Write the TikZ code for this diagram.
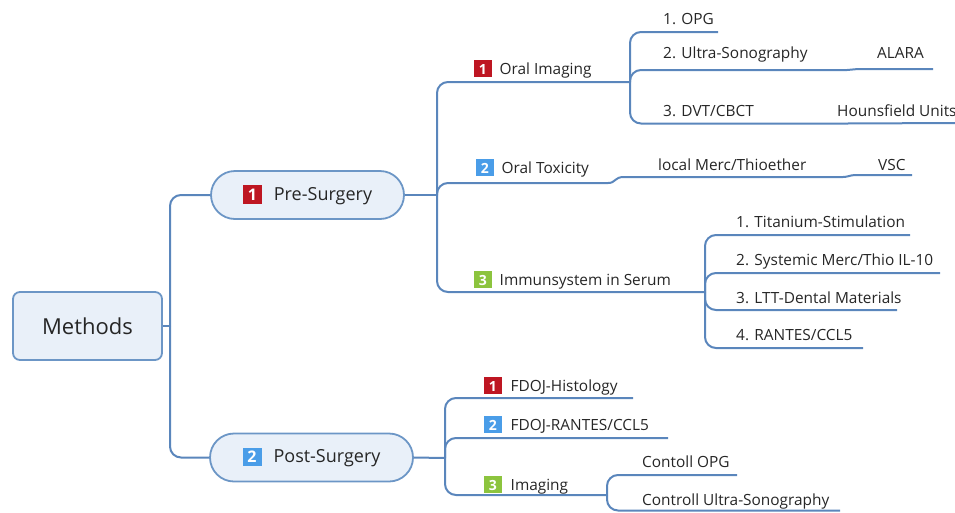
\documentclass[tikz,border=0pt]{standalone}
\usepackage{fontspec}
\setmainfont{Open Sans}
\usetikzlibrary{shapes.misc}
\definecolor{lnc}{HTML}{5A86BC}
\definecolor{boxfill}{HTML}{E9F0F9}
\definecolor{boxdraw}{HTML}{6C96C6}
\definecolor{txt}{HTML}{262626}
\definecolor{bred}{HTML}{BE1622}
\definecolor{bblue}{HTML}{4A9DE8}
\definecolor{bgreen}{HTML}{8CC43E}
\newcommand{\bdg}[2]{{\setlength{\fboxsep}{0pt}\colorbox{#1}{\makebox[17.5pt]{\fontsize{14}{14}\selectfont\bfseries\rule[-2.5pt]{0pt}{17pt}\color{white}#2}}}}
\newcommand{\bigbdg}[2]{{\setlength{\fboxsep}{0pt}\colorbox{#1}{\makebox[19pt]{\fontsize{16}{16}\selectfont\bfseries\rule[-3.5pt]{0pt}{18.5pt}\color{white}#2}}}}
\tikzset{
  cn/.style={draw=lnc, line width=2pt},
  rc/.style={rounded corners=11pt},
  rootbox/.style={draw=boxdraw, fill=boxfill, line width=1.8pt, rounded corners=7pt,
    minimum width=149pt, minimum height=68pt, inner sep=0pt, text=txt,
    font=\fontsize{22}{22}\selectfont},
  pill/.style={draw=boxdraw, fill=boxfill, line width=1.8pt, rounded rectangle,
    minimum height=48pt, inner sep=0pt, text=txt, font=\fontsize{18}{18}\selectfont},
  lbl/.style={anchor=base west, inner sep=0pt, text=txt, font=\fontsize{15.4}{15.4}\selectfont},
}
\begin{document}
\begin{tikzpicture}[x=1pt,y=-1pt]
\useasboundingbox (0,0) rectangle (955,512);
% level 0 and 1
\node[rootbox] (root) at (87.5,326) {Methods};
\node[pill, minimum width=193pt] (pre) at (307.5,195) {\bigbdg{bred}{1}\hspace{12pt}Pre-Surgery};
\node[pill, minimum width=203pt] (post) at (311.5,457.5) {\bigbdg{bblue}{2}\hspace{12pt}Post-Surgery};
\coordinate (t0) at (170,326);
\draw[cn] (root.east) -- (t0);
\draw[cn, rc] (t0) |- (pre.west);
\draw[cn, rc] (t0) |- (post.west);

% Pre-Surgery branches
\coordinate (t1) at (437,195);
\draw[cn] (pre.east) -- (t1);
\node[lbl] (oi) at (474,74) {\bdg{bred}{1}\hspace{8pt}Oral Imaging};
\node[lbl] (ot) at (476,173) {\bdg{bblue}{2}\hspace{8pt}Oral Toxicity};
\node[lbl] (im) at (474,285) {\bdg{bgreen}{3}\hspace{8pt}Immunsystem in Serum};
\coordinate (t2) at (630,82);
\coordinate (t3) at (608,183);
\coordinate (t4) at (705,292);
\draw[cn, rc] (t1) |- (t2);
\draw[cn, rc] (t1) |- (t3);
\draw[cn, rc] (t1) |- (t4);

% Oral Imaging children
\node[lbl] (opg) at (663,24) {1. OPG};
\node[lbl] (us) at (663,58) {2. Ultra-Sonography};
\node[lbl] (alara) at (877,58) {ALARA};
\node[lbl] (dvt) at (663,116) {3. DVT/CBCT};
\node[lbl] (hu) at (837,116) {Hounsfield Units};
\coordinate (e1) at (718,32);
\coordinate (e2) at (847,70);
\coordinate (e2b) at (933,69);
\coordinate (e3) at (847,123.5);
\coordinate (e3b) at (955,123);
\draw[cn, rc] (t2) |- (e1);
\draw[cn, rc] (t2) |- (e2);
\draw[cn] (e2) .. controls (852,70) and (853,69) .. (858,69) -- (e2b);
\draw[cn, rc] (t2) |- (e3);
\draw[cn] (e3) -- (e3b);

% Oral Toxicity children
\node[lbl] (lm) at (658,170) {local Merc/Thioether};
\node[lbl] (vsc) at (878,170) {VSC};
\coordinate (e4) at (624,177);
\coordinate (e4b) at (843,177);
\coordinate (e4c) at (912,175);
\draw[cn] (t3) .. controls (616,183) and (614,177) .. (e4) -- (e4b) .. controls (848,177) and (850,175) .. (856,175) -- (e4c);

% Immunsystem children
\node[lbl] (ti) at (736,227) {1. Titanium-Stimulation};
\node[lbl] (sy) at (736,265) {2. Systemic Merc/Thio IL-10};
\node[lbl] (ltt) at (736,303) {3. LTT-Dental Materials};
\node[lbl] (ra) at (736,340) {4. RANTES/CCL5};
\draw[cn, rc] (t4) |- (910,235) coordinate (e5);
\draw[cn, rc] (t4) |- (940,273) coordinate (e6);
\draw[cn, rc] (t4) |- (897,310) coordinate (e7);
\draw[cn, rc] (t4) |- (863,348) coordinate (e8);

% Post-Surgery branches
\coordinate (t5) at (445,458);
\draw[cn] (post.east) -- (t5);
\node[lbl] (fh) at (484,391) {\bdg{bred}{1}\hspace{9pt}FDOJ-Histology};
\node[lbl] (fr) at (484,430) {\bdg{bblue}{2}\hspace{9pt}FDOJ-RANTES/CCL5};
\node[lbl] (ig) at (484,490) {\bdg{bgreen}{3}\hspace{9pt}Imaging};
\coordinate (t6) at (607,495);
\draw[cn, rc] (t5) |- (633,398) coordinate (e9);
\draw[cn, rc] (t5) |- (668,438) coordinate (e10);
\draw[cn, rc] (t5) |- (t6);

% Imaging children
\node[lbl] (co) at (642,467) {Contoll OPG};
\node[lbl] (cu) at (642,505) {Controll Ultra-Sonography};
\draw[cn, rc] (t6) |- (737,475) coordinate (e11);
\draw[cn, rc] (t6) |- (840,510.5) coordinate (e12);
\end{tikzpicture}
\end{document}
